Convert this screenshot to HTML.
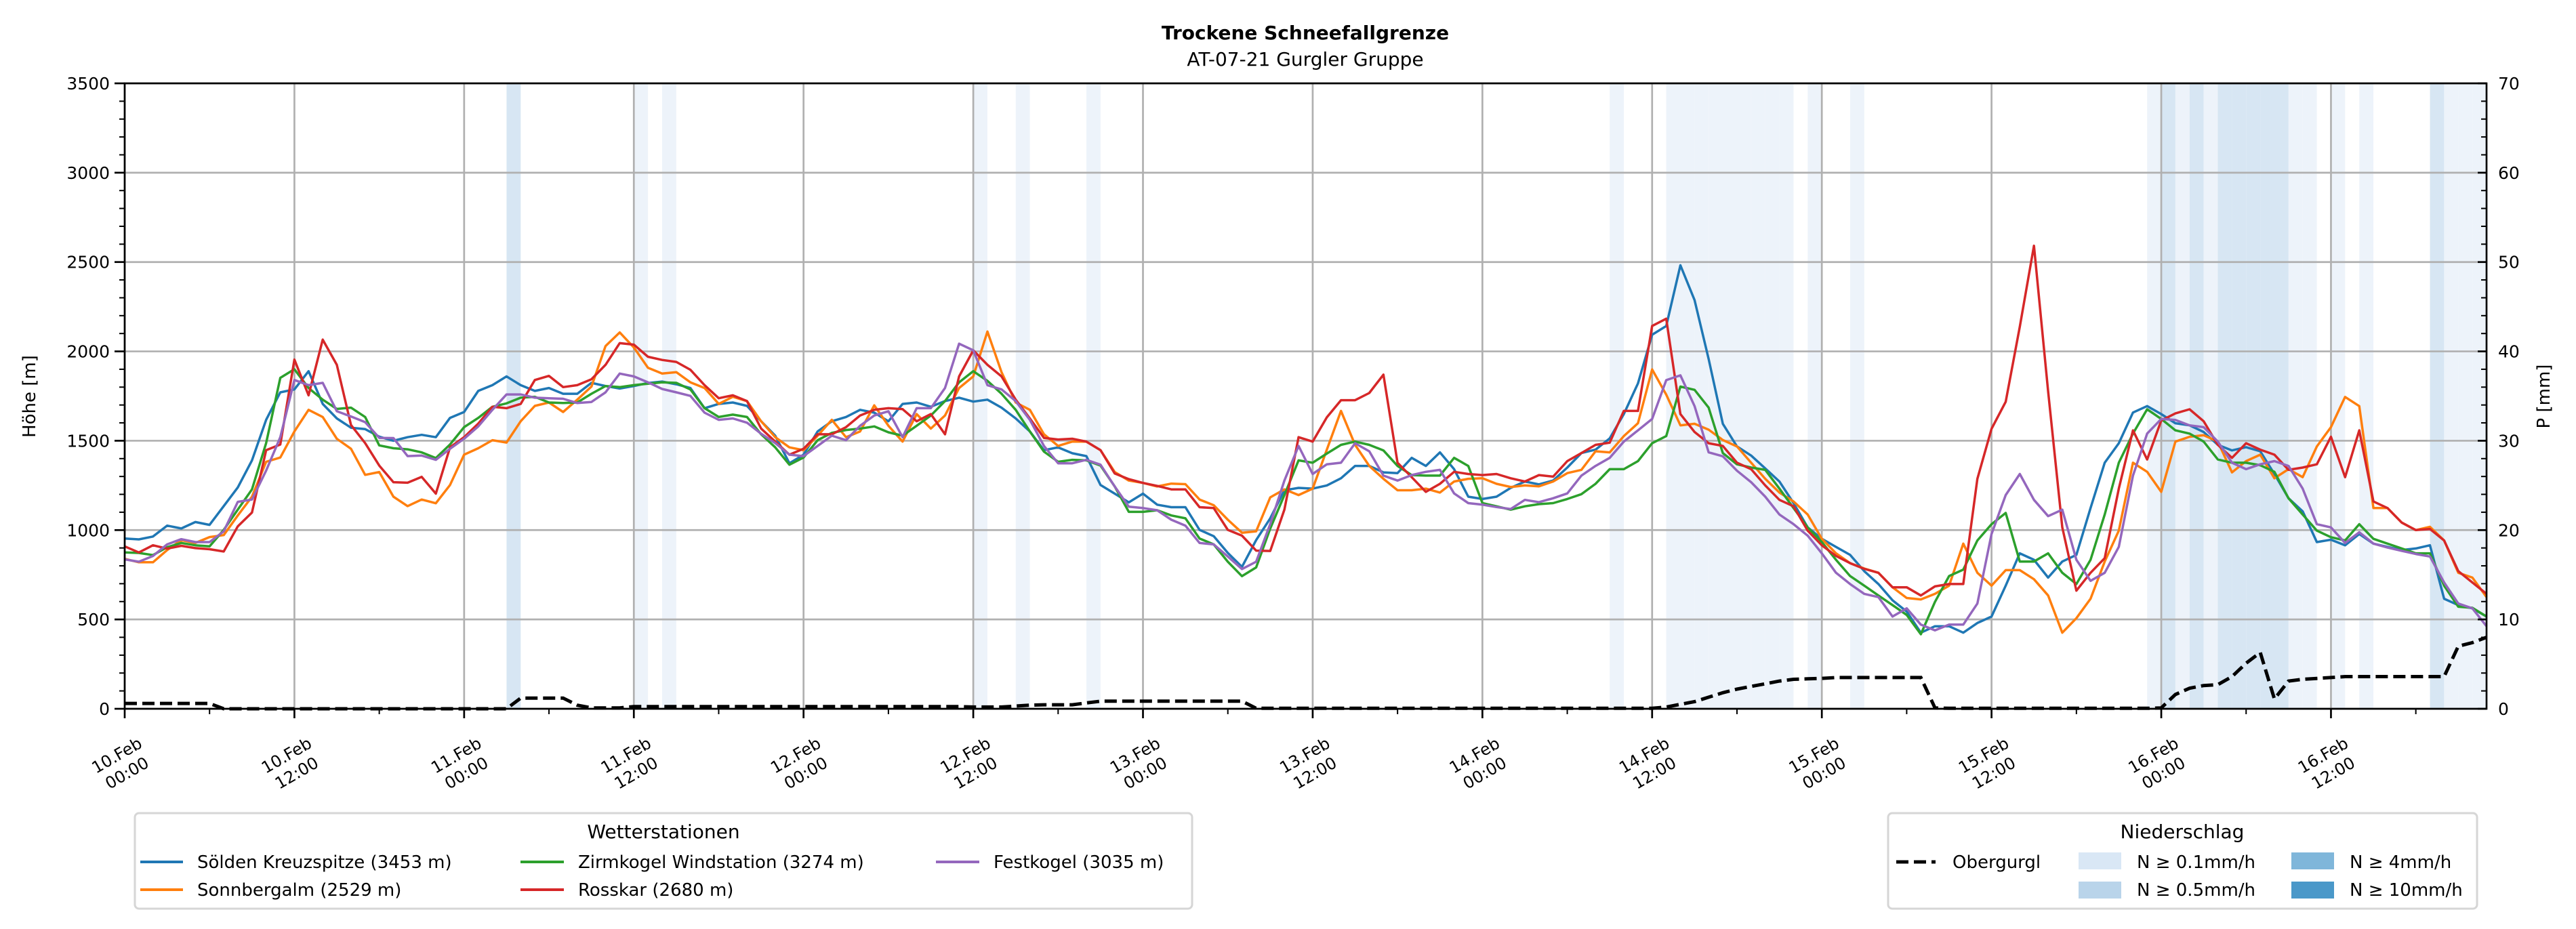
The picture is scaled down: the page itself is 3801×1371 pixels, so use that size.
<!DOCTYPE html>
<html><head><meta charset="utf-8"><title>Trockene Schneefallgrenze</title>
<style>
html,body{margin:0;padding:0;background:#fff;}
svg{display:block;font-family:"DejaVu Sans","Liberation Sans",sans-serif;}
</style></head>
<body>
<svg id="chart" width="3801" height="1371" viewBox="0 0 3801 1371" xmlns="http://www.w3.org/2000/svg">
  <rect x="0" y="0" width="3801" height="1371" fill="#fff"/>
  <text x="1926" y="58" text-anchor="middle" font-size="28" font-weight="bold">Trockene Schneefallgrenze</text>
  <text x="1926" y="97" text-anchor="middle" font-size="28">AT-07-21 Gurgler Gruppe</text>
  <g id="bands"></g>
  <g id="grid"></g>
  <g id="series"></g>
  <g id="axes"></g>
  <text transform="translate(52,585) rotate(-90)" text-anchor="middle" font-size="26">Höhe [m]</text>
  <text transform="translate(3762,585) rotate(-90)" text-anchor="middle" font-size="26">P [mm]</text>

  <g>
    <rect x="199" y="1200" width="1560" height="141" rx="6" fill="#fff" stroke="#d6d6d6" stroke-width="3"/>
    <text x="979" y="1237" text-anchor="middle" font-size="28">Wetterstationen</text>
    <g><line x1="207" y1="1272" x2="270" y2="1272" stroke="#1f77b4" stroke-width="4"/><text x="291" y="1281" font-size="26">Sölden Kreuzspitze (3453 m)</text></g>
    <g><line x1="207" y1="1313" x2="270" y2="1313" stroke="#ff7f0e" stroke-width="4"/><text x="291" y="1322" font-size="26">Sonnbergalm (2529 m)</text></g>
    <g><line x1="768" y1="1272" x2="832" y2="1272" stroke="#2ca02c" stroke-width="4"/><text x="853" y="1281" font-size="26">Zirmkogel Windstation (3274 m)</text></g>
    <g><line x1="768" y1="1313" x2="832" y2="1313" stroke="#d62728" stroke-width="4"/><text x="853" y="1322" font-size="26">Rosskar (2680 m)</text></g>
    <g><line x1="1381" y1="1272" x2="1445" y2="1272" stroke="#9467bd" stroke-width="4"/><text x="1466" y="1281" font-size="26">Festkogel (3035 m)</text></g>
  </g>

  <g>
    <rect x="2786" y="1200" width="869" height="141" rx="6" fill="#fff" stroke="#d6d6d6" stroke-width="3"/>
    <text x="3220" y="1237" text-anchor="middle" font-size="28">Niederschlag</text>
    <g><line x1="2798" y1="1272" x2="2856" y2="1272" stroke="#000" stroke-width="5" stroke-dasharray="18,8"/><text x="2881" y="1281" font-size="26">Obergurgl</text></g>
    <g><rect x="3067" y="1258" width="63" height="25" fill="#d9e7f5"/><text x="3153" y="1281" font-size="26">N ≥ 0.1mm/h</text></g>
    <g><rect x="3067" y="1301" width="63" height="25" fill="#b9d4ea"/><text x="3153" y="1322" font-size="26">N ≥ 0.5mm/h</text></g>
    <g><rect x="3381" y="1258" width="63" height="25" fill="#7fb6da"/><text x="3467" y="1281" font-size="26">N ≥ 4mm/h</text></g>
    <g><rect x="3381" y="1301" width="63" height="25" fill="#4a98c9"/><text x="3467" y="1322" font-size="26">N ≥ 10mm/h</text></g>
  </g>
</svg>
<script>
// ---- data (hourly, starting 10.Feb 00:00) ----
const hoursCount = 168;
const soelden = [953,948,964,1025,1009,1045,1029,1134,1239,1390,1617,1771,1787,1889,1706,1625,1573,1565,1523,1500,1520,1533,1520,1628,1661,1779,1811,1860,1811,1779,1795,1763,1763,1824,1806,1792,1806,1823,1831,1816,1795,1682,
1706,1714,1695,1609,1528,1374,1422,1552,1609,1633,1673,1657,1609,1706,1714,1690,1722,1741,1719,1730,1685,1625,1552,1447,1463,1430,1414,1252,1204,1155,1204,1142,1128,1128,1001,966,872,794,944,1066,1223,1236,
1232,1250,1290,1359,1359,1323,1319,1404,1359,1435,1341,1187,1174,1187,1236,1272,1256,1277,1350,1431,1450,1513,1649,1821,2093,2142,2482,2287,1957,1595,1468,1417,1345,1272,1151,1015,951,906,861,770,698,607,
544,426,462,462,426,480,516,689,870,834,734,824,861,1123,1377,1486,1658,1694,1649,1598,1586,1549,1477,1446,1464,1441,1314,1178,1105,933,946,915,978,924,906,888,897,915,616,580,562,516];
const sonnbergalm = [839,820,820,888,944,928,961,972,1082,1187,1382,1406,1552,1673,1633,1511,1455,1309,1325,1187,1134,1171,1150,1252,1422,1458,1503,1490,1609,1695,1714,1661,1730,1803,2030,2106,2022,1908,1876,1884,1827,1795,
1706,1746,1722,1609,1520,1463,1447,1528,1617,1520,1552,1698,1584,1495,1649,1568,1641,1795,1860,2111,1884,1714,1673,1536,1471,1495,1495,1447,1325,1277,1264,1244,1260,1257,1171,1139,1058,985,993,1183,1228,1196,
1232,1450,1667,1477,1359,1287,1223,1223,1232,1210,1272,1287,1290,1259,1241,1250,1245,1272,1319,1337,1441,1435,1526,1598,1899,1758,1586,1595,1562,1504,1468,1377,1287,1210,1160,1087,951,870,815,785,761,680,
620,612,643,689,924,761,689,776,776,725,634,426,507,616,824,997,1377,1326,1214,1495,1522,1531,1495,1323,1386,1422,1290,1341,1296,1468,1576,1745,1694,1123,1123,1042,1000,1018,942,761,734,625];
const zirmkogel = [875,872,860,904,928,915,909,1001,1115,1228,1487,1852,1900,1795,1730,1678,1685,1633,1474,1458,1452,1435,1403,1479,1576,1628,1690,1709,1741,1746,1714,1711,1714,1763,1806,1800,1811,1819,1827,1824,1787,1682,
1633,1646,1633,1536,1463,1366,1406,1503,1544,1560,1568,1580,1547,1528,1584,1641,1722,1827,1889,1835,1763,1673,1552,1439,1382,1393,1390,1361,1244,1102,1102,1111,1082,1066,953,920,823,742,791,1009,1196,1390,
1377,1428,1477,1495,1477,1446,1359,1308,1305,1305,1404,1359,1151,1133,1114,1133,1145,1151,1174,1201,1259,1341,1341,1386,1486,1526,1803,1785,1685,1431,1368,1350,1337,1232,1123,1015,933,834,743,689,634,580,
525,417,598,743,779,942,1033,1096,824,824,870,761,698,834,1087,1377,1540,1676,1622,1558,1540,1495,1395,1377,1377,1363,1326,1178,1087,997,960,942,1033,951,924,897,870,870,689,571,565,516];
const rosskar = [909,875,915,896,912,899,893,880,1021,1098,1447,1479,1954,1754,2066,1925,1588,1487,1361,1268,1265,1298,1204,1463,1520,1596,1690,1682,1706,1840,1863,1800,1811,1844,1925,2046,2038,1970,1952,1941,1897,1811,
1738,1754,1722,1568,1495,1422,1455,1536,1536,1576,1641,1673,1682,1677,1609,1649,1536,1860,2006,1925,1860,1730,1625,1516,1507,1511,1495,1447,1317,1285,1264,1247,1228,1228,1128,1123,1001,969,885,883,1115,1520,
1495,1631,1727,1727,1767,1870,1377,1296,1214,1259,1326,1314,1308,1314,1290,1272,1308,1299,1386,1431,1477,1489,1667,1667,2142,2183,1649,1549,1486,1471,1377,1341,1250,1169,1133,997,915,855,815,783,761,680,
680,634,685,698,698,1287,1567,1718,2138,2591,1776,1015,661,761,843,1232,1558,1395,1613,1653,1676,1609,1477,1404,1486,1450,1422,1337,1350,1368,1522,1296,1558,1160,1123,1042,1000,1006,942,770,707,643];
const festkogel = [836,823,855,920,949,933,933,993,1158,1171,1333,1520,1840,1811,1824,1665,1636,1604,1516,1515,1414,1417,1393,1455,1511,1580,1673,1759,1759,1741,1738,1735,1711,1717,1771,1876,1860,1827,1790,1771,1751,1657,
1617,1625,1601,1539,1487,1422,1414,1471,1528,1503,1584,1641,1665,1520,1682,1682,1795,2043,2006,1811,1787,1722,1617,1471,1374,1374,1393,1366,1244,1131,1123,1111,1058,1025,928,920,852,782,823,1034,1277,1471,
1314,1368,1377,1486,1441,1305,1277,1308,1326,1337,1205,1151,1142,1129,1118,1169,1156,1178,1205,1305,1359,1404,1495,1558,1622,1839,1866,1694,1435,1413,1332,1268,1187,1087,1033,969,870,761,698,643,625,516,
562,471,439,471,471,589,978,1196,1314,1169,1078,1114,834,716,761,906,1305,1540,1622,1616,1586,1576,1495,1377,1341,1368,1386,1359,1232,1033,1015,928,988,924,902,884,866,852,707,589,562,462];
const obergurglP = [0.6,0.6,0.6,0.6,0.6,0.6,0.6,
0,0,0,0,0,0,0,0,0,0,0,0,0,0,0,0,0,0,0,0,
0,1.2,1.2,1.2,1.2,0.4,0.1,0.1,0.1,
0.25,0.25,0.25,0.25,0.25,0.25,0.25,0.25,0.25,0.25,0.25,0.25,0.25,0.25,0.25,0.25,0.25,0.25,0.25,0.25,0.25,0.25,0.25,0.25,
0.2,0.2,0.2,0.3,0.4,0.45,0.45,0.45,0.65,
0.85,0.85,0.85,0.85,0.85,0.85,0.85,0.85,0.85,0.85,0.85,
0.05,0.05,0.05,0.05,0.05,0.05,0.05,0.05,0.05,0.05,0.05,0.05,0.05,0.05,0.05,0.05,0.05,0.05,0.05,0.05,0.05,0.05,0.05,0.05,0.05,0.05,0.05,0.05,0.05,
0.2,0.5,0.8,1.3,1.8,2.2,2.5,2.8,3.1,3.3,3.35,3.4,
3.5,3.5,3.5,3.5,3.5,3.5,3.5,
0.1,0.05,0.05,0.05,0.05,0.05,0.05,0.05,0.05,0.05,0.05,0.05,0.05,0.05,0.05,0.05,
0.1,
1.6,2.3,2.6,2.7,3.6,5.1,6.3,1.1,3.1,3.3,3.4,3.5,
3.6,3.6,3.6,3.6,3.6,3.6,3.6,3.6,
7.0,7.4,8.0];
const rainHours  = [27,36,38,60,63,68,105,109,110,111,112,113,114,115,116,117,119,122,143,144,145,146,147,148,149,150,151,152,153,154,156,158,163,164,165,166,167];
const rainLevels = [2,1,1,1,1,1,1,1,1,1,1,1,1,1,1,1,1,1,1,2,1,2,1,2,2,2,2,2,1,1,1,1,2,1,1,1,1];
const yTicks = [0,500,1000,1500,2000,2500,3000,3500];
const y2Ticks = [0,10,20,30,40,50,60,70];
const xTickLabels = [["10.Feb","00:00"],["10.Feb","12:00"],["11.Feb","00:00"],["11.Feb","12:00"],["12.Feb","00:00"],["12.Feb","12:00"],["13.Feb","00:00"],["13.Feb","12:00"],["14.Feb","00:00"],["14.Feb","12:00"],["15.Feb","00:00"],["15.Feb","12:00"],["16.Feb","00:00"],["16.Feb","12:00"]];

// ---- scales ----
const L = 184, R = 3669, T = 123, B = 1046;
const xMax = 167, yMax = 3500, pMax = 70;
function xs(h){ return L + h*(R-L)/xMax; }
function ys(v){ return B - v*(B-T)/yMax; }
function yp(p){ return B - p*(B-T)/pMax; }
const NS = "http://www.w3.org/2000/svg";
function mk(tag, attrs, parent){
  const e = document.createElementNS(NS, tag);
  for (const k in attrs) e.setAttribute(k, attrs[k]);
  parent.appendChild(e);
  return e;
}
const gBands = document.getElementById('bands');
const gGrid = document.getElementById('grid');
const gSeries = document.getElementById('series');
const gAxes = document.getElementById('axes');
const bandColors = {1:"#edf3fa", 2:"#d7e6f3"};

// precipitation bands
rainHours.forEach((h,i)=>{
  const x0 = xs(h), x1 = Math.min(xs(h+1), R);
  const r = mk('rect',{x:x0,y:T,width:x1-x0,height:B-T,fill:bandColors[rainLevels[i]]},gBands);
  
  
});

// grid
yTicks.forEach(v=>{
  const l = mk('line',{x1:L,x2:R,y1:ys(v),y2:ys(v),stroke:"#b0b0b0","stroke-width":2.7},gGrid);
  
  
});
xTickLabels.forEach((lab,i)=>{
  const x = xs(i*12);
  const l = mk('line',{x1:x,x2:x,y1:T,y2:B,stroke:"#b0b0b0","stroke-width":2.7},gGrid);
  
  
});

// series
const seriesList = [[soelden,"#1f77b4","series-soelden"],[sonnbergalm,"#ff7f0e","series-sonnbergalm"],[zirmkogel,"#2ca02c","series-zirmkogel"],[rosskar,"#d62728","series-rosskar"],[festkogel,"#9467bd","series-festkogel"]];
seriesList.forEach(s=>{
  const pts = s[0].map((v,h)=>xs(h).toFixed(1)+","+ys(v).toFixed(1)).join(" ");
  const p = mk('polyline',{points:pts,fill:"none",stroke:s[1],"stroke-width":3.5,"stroke-linejoin":"round"},gSeries);
  
  
});
const ppts = obergurglP.map((v,h)=>xs(h).toFixed(1)+","+yp(v).toFixed(1)).join(" ");
const pl = mk('polyline',{points:ppts,fill:"none",stroke:"#000","stroke-width":5,"stroke-dasharray":"18,8"},gSeries);



// axes frame
const frame = mk('rect',{x:L,y:T,width:R-L,height:B-T,fill:"none",stroke:"#000","stroke-width":2.7},gAxes);



// left y ticks
yTicks.forEach(v=>{
  const y = ys(v);
  const t = mk('line',{x1:L-15,x2:L,y1:y,y2:y,stroke:"#000","stroke-width":2.7},gAxes);
  
  
  const tx = mk('text',{x:L-22,y:y+9,"text-anchor":"end","font-size":25},gAxes);
  tx.textContent = String(v);
  
  
});
for (let v=100; v<yMax; v+=100){
  if (v%500===0) continue;
  const m = mk('line',{x1:L-8,x2:L,y1:ys(v),y2:ys(v),stroke:"#000","stroke-width":2},gAxes);
  
  
}
// right y ticks (inward)
y2Ticks.forEach(v=>{
  const y = yp(v);
  const t = mk('line',{x1:R-13,x2:R,y1:y,y2:y,stroke:"#000","stroke-width":2.7},gAxes);
  
  
  const tx = mk('text',{x:R+17,y:y+9,"text-anchor":"start","font-size":25},gAxes);
  tx.textContent = String(v);
  
  
});
for (let v=2; v<pMax; v+=2){
  if (v%10===0) continue;
  const m = mk('line',{x1:R-8,x2:R,y1:yp(v),y2:yp(v),stroke:"#000","stroke-width":2},gAxes);
  
  
}
// x ticks
xTickLabels.forEach((lab,i)=>{
  const x = xs(i*12);
  const t = mk('line',{x1:x,x2:x,y1:B,y2:B+14,stroke:"#000","stroke-width":2.7},gAxes);
  
  
  const g = mk('g',{transform:"translate("+(x-4)+",1128) rotate(-30)","font-size":24,"text-anchor":"middle"},gAxes);
  
  
  const a = mk('text',{x:0,y:-7},g); a.textContent = lab[0];
  const b = mk('text',{x:0,y:23},g); b.textContent = lab[1];
});
for (let h=6; h<=xMax; h+=12){
  const m = mk('line',{x1:xs(h),x2:xs(h),y1:B,y2:B+8,stroke:"#000","stroke-width":2},gAxes);
  
  
}
</script>
</body></html>
